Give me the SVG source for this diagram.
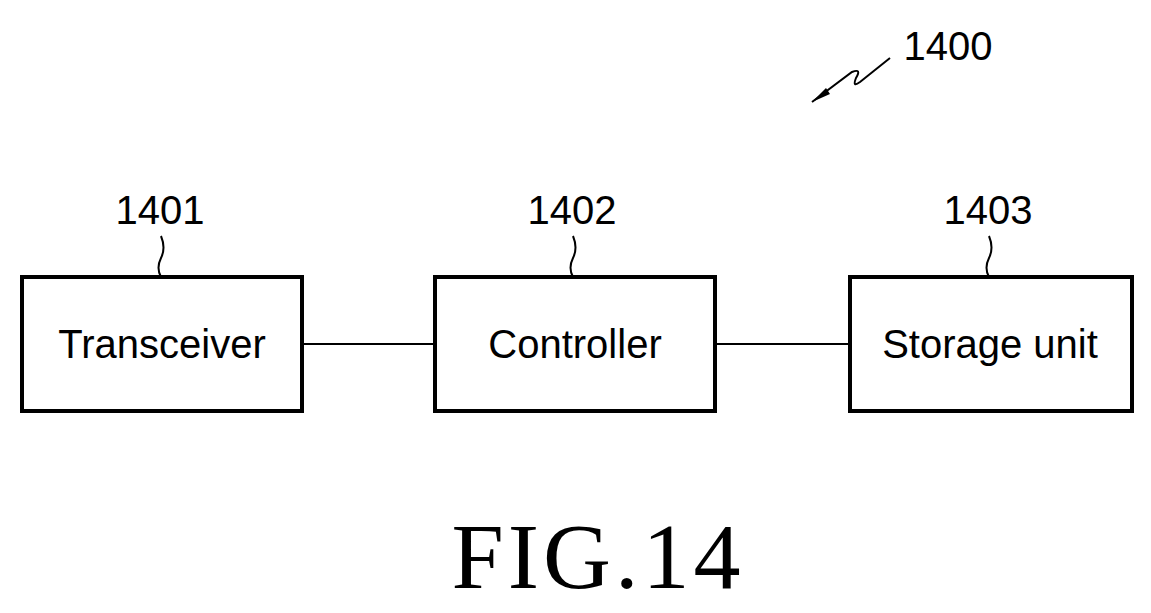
<svg xmlns="http://www.w3.org/2000/svg" width="1151" height="613" viewBox="0 0 1151 613">
<style>
.box{fill:none;stroke:#000;stroke-width:4}
.lbl{font-family:"Liberation Sans",Arial,sans-serif;font-size:40px;fill:#000;text-anchor:middle}
.num{font-family:"Liberation Sans",Arial,sans-serif;font-size:40px;fill:#000;text-anchor:middle}
.ln{fill:none;stroke:#000;stroke-width:2}
</style>
<rect width="1151" height="613" fill="#fff"/>
<g id="n1400">
<text class="num" x="948" y="60">1400</text>
<path class="ln" d="M890 58 L860 82 Q852 88 856 78 Q862 68 852 72 L812 102"/>
<path d="M812 102 L826 88 L830 94 Z" fill="#000"/>
</g>
<g id="n1401">
<rect class="box" x="22" y="277" width="280" height="134"/>
<text class="lbl" x="162" y="358">Transceiver</text>
<text class="num" x="160" y="224">1401</text>
<path class="ln" d="M161 236 Q166 248 161 258 Q156 268 161 277"/>
</g>
<g id="n1402">
<rect class="box" x="435" y="277" width="280" height="134"/>
<text class="lbl" x="575" y="358">Controller</text>
<text class="num" x="572" y="224">1402</text>
<path class="ln" d="M573 236 Q578 248 573 258 Q568 268 573 277"/>
</g>
<g id="n1403">
<rect class="box" x="850" y="277" width="282" height="134"/>
<text class="lbl" x="990" y="358">Storage unit</text>
<text class="num" x="988" y="224">1403</text>
<path class="ln" d="M989 236 Q994 248 989 258 Q984 268 989 277"/>
</g>
<g id="connectors">
<line class="ln" x1="302" y1="344" x2="435" y2="344"/>
<line class="ln" x1="715" y1="344" x2="850" y2="344"/>
</g>
<text x="598" y="588" font-family="Liberation Serif,Times New Roman,serif" font-size="94" letter-spacing="4" text-anchor="middle">FIG.14</text>
</svg>
